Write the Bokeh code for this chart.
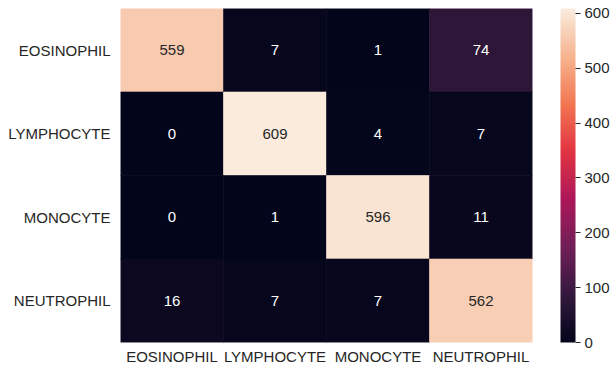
from bokeh.plotting import figure
from bokeh.models import ColumnDataSource, LinearColorMapper, ColorBar, FixedTicker
from bokeh.transform import transform
from bokeh.core.properties import value
from bokeh.embed import file_html
from bokeh.resources import INLINE

# ---- data ----
classes = ["EOSINOPHIL", "LYMPHOCYTE", "MONOCYTE", "NEUTROPHIL"]
row_eosinophil = [559, 7, 1, 74]
row_lymphocyte = [0, 609, 4, 7]
row_monocyte = [0, 1, 596, 11]
row_neutrophil = [16, 7, 7, 562]
colorbar_ticks = [0, 100, 200, 300, 400, 500, 600]

rows = [row_eosinophil, row_lymphocyte, row_monocyte, row_neutrophil]

# ---- rocket-like palette (style) ----
anchors = ["#03051a", "#35193e", "#701f57", "#ad1759", "#e13342", "#f37651", "#f6b48f", "#faebdd"]

def hex2rgb(h):
    return tuple(int(h[i:i + 2], 16) for i in (1, 3, 5))

palette = []
n = 256
for i in range(n):
    t = i / (n - 1) * (len(anchors) - 1)
    k = min(int(t), len(anchors) - 2)
    f = t - k
    a, b = hex2rgb(anchors[k]), hex2rgb(anchors[k + 1])
    c = tuple(round(a[j] + (b[j] - a[j]) * f) for j in range(3))
    palette.append("#%02x%02x%02x" % c)

vmin = 0
vmax = max(max(r) for r in rows)

xs, ys, vals, labels, tcolors = [], [], [], [], []
for ri, r in enumerate(rows):
    for ci, v in enumerate(r):
        xs.append(classes[ci])
        ys.append(classes[ri])
        vals.append(v)
        labels.append(str(v))
        tcolors.append("#262626" if v > 0.5 * vmax else "#ffffff")

src = ColumnDataSource(dict(x=xs, y=ys, v=vals, label=labels, tc=tcolors))

mapper = LinearColorMapper(palette=palette, low=vmin, high=vmax)

p = figure(width=611, height=370, frame_width=412, frame_height=334,
           x_range=classes, y_range=list(reversed(classes)),
           output_backend="svg", toolbar_location=None,
           min_border_left=120, min_border_right=79, min_border_top=8, min_border_bottom=28)

p.rect(x="x", y="y", width=1, height=1, source=src,
       fill_color=transform("v", mapper), line_color=transform("v", mapper), line_width=0.6)

p.text(x="x", y="y", text="label", source=src, text_color="tc",
       text_align="center", text_baseline="middle",
       text_font=value("Liberation Sans"), text_font_size="15px")

for ax in (p.xaxis, p.yaxis):
    ax.axis_line_color = None
    ax.major_tick_line_color = None
    ax.minor_tick_line_color = None
    ax.major_tick_out = 0
    ax.major_tick_in = 0
    ax.major_label_text_font = "Liberation Sans"
    ax.major_label_text_font_size = "15px"
    ax.major_label_text_color = "#262626"
p.xaxis.major_label_standoff = 5
p.yaxis.major_label_standoff = 10

p.xgrid.grid_line_color = None
p.ygrid.grid_line_color = None
p.outline_line_color = None
p.x_range.range_padding = 0
p.y_range.range_padding = 0

cb = ColorBar(color_mapper=mapper, ticker=FixedTicker(ticks=colorbar_ticks),
              width=15, padding=0, margin=0, location=(28, 0),
              major_tick_in=0, major_tick_out=5, major_tick_line_color="#262626",
              major_label_text_font="Liberation Sans", major_label_text_font_size="15px",
              major_label_text_color="#262626", label_standoff=4,
              bar_line_color=None, border_line_color=None, background_fill_color=None)
p.add_layout(cb, "right")

open("out.html", "w").write(file_html(p, INLINE))
